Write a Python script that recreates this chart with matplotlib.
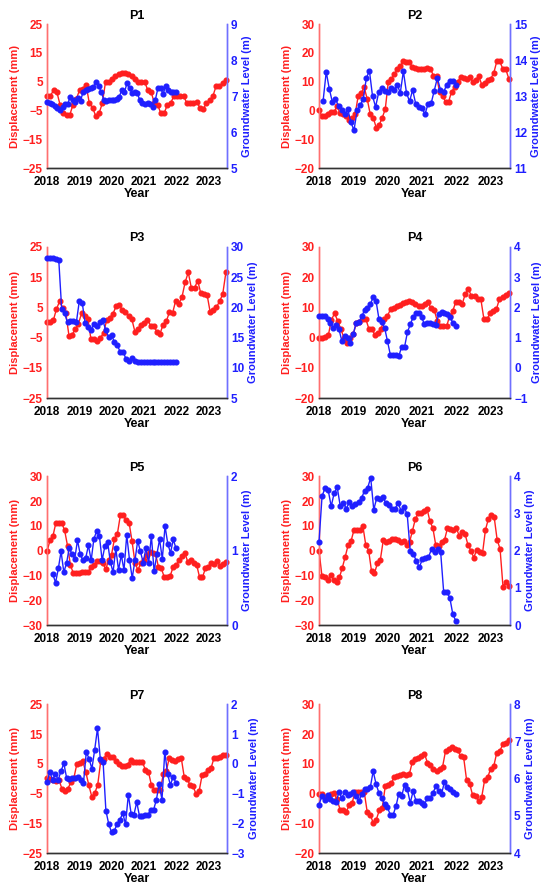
import numpy as np
import matplotlib.pyplot as plt

plt.rcParams['font.family'] = ['Liberation Sans', 'DejaVu Sans']
plt.rcParams['font.weight'] = 'bold'

RED = '#ff1f1f'
BLUE = '#1f1fff'

# displacement (mm), roughly monthly from 2018.0 to 2023.5
p1_disp = [0, 0, 2, 1.5, -3, -6, -6.5, -6.5, -3, -1, 2, 2.5, 4, -2.5, -4, -7, -6, -2.5,
           5, 5, 6, 7, 7.5, 8, 8, 7.5, 7, 6, 5, 5, 5, 2, 1.5, -2.5, -3, -6, -6, -3, -2.5,
           0, 0, 0, 0, -2.5, -2.5, -2.5, -2, -4, -4.5, -2.5, -1.5, 0, 3.5, 3.5, 4.5, 5.5]
p2_disp = [0, -2, -2, -1.3, -0.5, -0.5, 1.5, -1, -1.3, -2, -3.3, -2.7, -1.3, 5, 6, 8, 4,
           -1.3, -2.5, -6, -5, -2.5, 0.5, 10, 11, 12.5, 14.5, 15.5, 17, 16.8, 16.8, 15,
           14.7, 14.5, 14.3, 14.5, 14.7, 14.5, 12, 12, 6.5, 5, 3, 3, 6.5, 8, 10, 11.5,
           11.2, 11, 11.5, 10, 10.5, 12, 9, 9.5, 10.5, 11, 13, 17, 17, 14.5, 14.3, 11]
p3_disp = [0, 0, 0.7, 4.4, 7, 4.8, 3, -4.4, -4, -2.2, -0.4, 3, 2.2, 1.2, -5.5, -5.5,
           -6.2, -5.1, -3.5, 0.7, 1.5, 2.9, 5.3, 5.9, 4, 3.4, 2.2, 1.2, -3, -2.2, -0.7,
           -0.2, 0.9, -1, -1.3, -3, -3.7, -0.7, 0.4, 3.4, 3.1, 7.2, 6.2, 8.4, 13.3, 16.6,
           11.4, 11.4, 13.9, 9.7, 9.5, 9.2, 3.4, 4.2, 5.1, 7, 9.5, 16.6]
p4_disp = [0, 0, 0.3, 0.8, 5.9, 8, 5.6, 2.8, 0, -1.9, 0, 1.1, 4.8, 5.2, 6.1, 6.3, 3,
           2.8, 0.8, 1.4, 3, 6.3, 7.2, 9.4, 9.7, 10.3, 10.8, 11.4, 11.9, 12.2, 11.9,
           11.1, 10.6, 10.6, 11.1, 11.7, 9.7, 9.2, 5.6, 3.9, 3.7, 3.7, 7.2, 8.9, 11.9,
           11.7, 11.1, 14.4, 16.1, 13.7, 13.9, 12.8, 12.8, 6.1, 6.1, 8.1, 8.9, 9.4, 12.8,
           13.3, 14.1, 14.8]
p5_disp = [-0.3, 4.1, 5.8, 11.1, 11.2, 11.2, 8.2, 1.9, -5.9, -9.2, -9.2, -9.2, -8.8,
           -8.8, -8.8, -6.6, -5.9, -4.1, -4.1, -4.8, -7.6, -3.9, -1.6, 4.8, 6.8, 14.2,
           14.2, 12.2, 11.2, 3.7, -4.8, -7.9, -4.8, -3.9, -1.6, -0.5, -0.8, -1.2, -6.6,
           -7.2, -10.8, -10.6, -10.2, -6.6, -5.9, -3.9, -2.1, -0.8, -4.6, -3.6, -4.8,
           -5.6, -10.6, -10.8, -7.2, -6.6, -4.8, -5.2, -4.1, -6.2, -5.2, -4.6]
p6_disp = [0, -10.1, -10.8, -11.8, -9.8, -11.8, -12.7, -10.8, -6.8, -2.4, 2.4, 4, 8.4,
           8.4, 8.4, 10.1, 2.4, 0, -8.4, -9.1, -5.1, -3.7, 4.1, 3.4, 3.7, 4.8, 4.8, 4.4,
           3.4, 3.7, 2.4, 3.4, 8, 12.8, 15.2, 15.2, 15.8, 16.8, 11.8, 9.1, 2.1, 1.7, 3.4,
           4.4, 9.1, 8.8, 8.4, 9.1, 6.1, 7.4, 6.7, 2.4, 0, -2.8, 0.3, -0.6, -1, 8.4,
           12.8, 14.2, 13.4, 4.4, 0.7, -14.5, -12.5, -14.1]
p7_disp = [0.2, 0, -0.4, -0.7, -0.4, -3.4, -4.1, -3.4, -1.2, 0.2, 4.9, 5.2, 5.8, 2.2,
           -2.1, -6, -4.9, -2.1, 5.8, 6.7, 8.2, 7.4, 7.4, 5.8, 4.9, 4.1, 4.4, 4.6, 6.3,
           5.5, 5.5, 5.5, 5.5, 3, 2.4, -2.1, -3.7, -3.7, -3.7, 1.5, 2.6, 6.9, 6.3, 6,
           6.7, 7.1, 0.7, 0, -2.3, -2.6, -5.2, -4.3, 1.1, 1.5, 3, 3.5, 6.9, 6.9, 7.4,
           7.8, 7.8]
p8_disp = [0, -0.3, -1.2, -0.9, -0.1, 0.2, -2, -5.4, -5.7, -6.2, -4, -3.1, 0.6, 0.6,
           0.6, 0.6, -6.2, -7.1, -9.9, -8.8, -5.7, -4.8, 2.5, 3, 3.6, 5.5, 5.8, 6.2, 6.4,
           6.2, 6.6, 10.7, 11.5, 12, 12.6, 13.4, 10.3, 9.6, 8.1, 7.5, 8.1, 8.9, 14.3,
           14.8, 15.7, 14.8, 14.5, 12.6, 12.2, 4.4, 3.3, -0.6, -0.9, -2.6, -1.2, 4.7,
           5.5, 8.4, 9.2, 13.7, 14.3, 16.5, 17.1, 18]

# groundwater level (m), roughly monthly up to 2022
p1_gw = [6.84, 6.82, 6.78, 6.72, 6.68, 6.6, 6.7, 6.78, 6.78, 6.98, 6.9, 6.84, 6.94,
         6.87, 7.12, 7.17, 7.19, 7.22, 7.25, 7.4, 7.28, 7.12, 6.9, 6.87, 6.88, 6.88,
         6.9, 6.92, 6.98, 7.17, 7.1, 7.36, 7.22, 7.08, 7.1, 7.08, 6.88, 6.82, 6.78,
         6.8, 6.78, 6.7, 6.9, 7.22, 7.22, 7.06, 7.28, 7.17, 7.12, 7.12, 7.12]
p2_gw = [12.87, 13.67, 13.2, 12.83, 12.92, 12.72, 12.6, 12.5, 12.63, 12.27, 12.05,
         12.6, 12.75, 12.92, 13.5, 13.7, 13.0, 12.7, 13.1, 13.23, 13.15, 13.1, 13.22,
         13.18, 13.31, 13.09, 13.69, 13.09, 12.85, 13.17, 12.78, 12.69, 12.66, 12.5,
         12.78, 12.8, 13.15, 13.5, 13.18, 13.1, 13.31, 13.43, 13.43, 13.3]
p3_gw = [28.2, 28.2, 28.1, 28.0, 27.9, 19.7, 19.0, 17.5, 17.7, 17.7, 17.5, 21.0, 20.8,
         17.4, 16.8, 16.3, 17.2, 17.0, 17.5, 17.9, 16.3, 15.1, 15.5, 14.2, 13.7, 12.6,
         12.6, 11.4, 11.1, 11.6, 11.2, 10.9, 10.9, 10.9, 10.9, 10.9, 10.9, 10.9, 10.9,
         10.9, 10.9, 10.9, 10.9, 10.9, 10.9]
p4_gw = [1.72, 1.7, 1.72, 1.61, 1.47, 1.33, 1.41, 1.28, 0.89, 1.06, 1.0, 0.81, 1.11,
         1.48, 1.52, 1.7, 1.92, 1.97, 2.11, 2.33, 2.22, 1.63, 1.5, 1.33, 0.89, 0.44,
         0.44, 0.41, 0.39, 0.7, 0.69, 1.17, 1.44, 1.67, 1.81, 1.81, 1.67, 1.44, 1.48,
         1.47, 1.44, 1.41, 1.78, 1.86, 1.81, 1.78, 1.67, 1.48, 1.39]
p5_gw = [0.68, 0.57, 0.76, 0.99, 0.71, 0.83, 1.04, 0.95, 0.89, 1.14, 0.95, 0.87, 0.9,
         1.07, 0.87, 1.16, 1.26, 1.2, 0.87, 1.06, 1.12, 0.85, 0.71, 1.03, 0.74, 0.94,
         0.74, 1.21, 0.88, 0.63, 0.87, 1.13, 0.99, 0.84, 1.03, 0.83, 1.2, 0.72, 0.95,
         1.15, 0.89, 1.33, 1.09, 0.97, 1.15, 1.03]
p6_gw = [2.23, 3.46, 3.69, 3.64, 3.19, 3.55, 3.7, 3.19, 3.28, 3.13, 3.31, 3.19, 3.25,
         3.3, 3.42, 3.61, 3.69, 3.96, 3.1, 3.42, 3.4, 3.43, 3.28, 3.24, 3.13, 3.13,
         3.28, 3.07, 3.16, 2.98, 1.98, 1.91, 1.73, 1.55, 1.78, 1.8, 1.82, 2.05, 1.96,
         2.05, 1.96, 0.88, 0.88, 0.74, 0.29, 0.11]
p7_gw = [-0.6, -0.28, -0.54, -0.35, -0.54, -0.24, 0.01, -0.48, -0.51, -0.48, -0.48,
         -0.43, -0.54, -0.65, 0.39, 0.17, -0.17, 0.47, 1.19, 0.17, 0.06, -1.58, -2.02,
         -2.3, -2.25, -2.03, -1.88, -1.66, -2.03, -1.04, -1.68, -1.71, -1.29, -1.77,
         -1.77, -1.71, -1.71, -1.55, -1.55, -1.21, -0.68, -1.21, 0.41, -0.35, -0.71,
         -0.43, -0.65]
p8_gw = [5.3, 5.53, 5.42, 5.56, 5.44, 5.39, 5.38, 5.64, 5.48, 5.64, 5.56, 5.6, 5.64,
         5.53, 5.39, 5.6, 5.73, 5.73, 5.77, 6.2, 5.86, 5.62, 5.48, 5.32, 5.23, 5.03,
         5.03, 5.26, 5.6, 5.53, 5.84, 5.71, 5.35, 5.66, 5.41, 5.39, 5.35, 5.3, 5.48,
         5.48, 5.62, 5.8, 5.68, 5.6, 5.91, 5.78, 5.71, 5.64, 5.6]

titles = ['P1', 'P2', 'P3', 'P4', 'P5', 'P6', 'P7', 'P8']
disp_all = [p1_disp, p2_disp, p3_disp, p4_disp, p5_disp, p6_disp, p7_disp, p8_disp]
gw_all = [p1_gw, p2_gw, p3_gw, p4_gw, p5_gw, p6_gw, p7_gw, p8_gw]
gw_start = [2018.0, 2018.12, 2018.0, 2018.0, 2018.18, 2018.0, 2018.0, 2018.0]
disp_ticks = [np.arange(-25, 26, 10), np.arange(-20, 31, 10),
              np.arange(-25, 26, 10), np.arange(-20, 31, 10),
              np.arange(-30, 31, 10), np.arange(-30, 31, 10),
              np.arange(-25, 26, 10), np.arange(-20, 31, 10)]
gw_ticks = [np.arange(5, 10), np.arange(11, 16), np.arange(5, 31, 5), np.arange(-1, 5),
            np.arange(0, 3), np.arange(0, 5), np.arange(-3, 3), np.arange(4, 9)]
years = [2018, 2019, 2020, 2021, 2022, 2023]

fig = plt.figure(figsize=(5.5, 8.91), dpi=100)

col_left = [0.0855, 0.58]
col_width = [0.327, 0.347]
row_bottom = [0.8114, 0.5533, 0.2985, 0.0426]
row_height = [0.1616, 0.1695, 0.167, 0.167]

for i in range(8):
    r, c = i // 2, i % 2
    ax = fig.add_axes([col_left[c], row_bottom[r], col_width[c], row_height[r]])
    ax2 = ax.twinx()

    d = disp_all[i]
    g = gw_all[i]
    td = np.linspace(2018.0, 2023.52, len(d))
    tg = np.linspace(gw_start[i], 2021.98, len(g))

    ax.plot(td, d, '-o', color=RED, ms=3.4, lw=1, clip_on=False, zorder=3)
    ax2.plot(tg, g, '-o', color=BLUE, ms=3.4, lw=1, clip_on=False, zorder=3)

    ax.set_xlim(2018, 2023.55)
    ax.set_xticks(years)
    ax.set_ylim(disp_ticks[i][0], disp_ticks[i][-1])
    ax.set_yticks(disp_ticks[i])
    ax2.set_ylim(gw_ticks[i][0], gw_ticks[i][-1])
    ax2.set_yticks(gw_ticks[i])

    ax.tick_params(axis='x', length=0, pad=6, labelsize=8.5)
    ax.tick_params(axis='y', length=0, pad=3, labelsize=8.5, labelcolor=RED)
    ax2.tick_params(axis='y', length=0, pad=3, labelsize=8.5, labelcolor=BLUE)

    for a in (ax, ax2):
        a.spines['top'].set_visible(False)
        a.spines['left'].set_color('#ff7070')
        a.spines['right'].set_color('#7070ff')
        a.spines['bottom'].set_color('#333333')
        for s in a.spines.values():
            s.set_linewidth(1)

    ax.set_title(titles[i], fontsize=9, fontweight='bold', pad=4)
    ax.set_xlabel('Year', fontsize=9, fontweight='bold', labelpad=0)
    ax.set_ylabel('Displacement (mm)', fontsize=8, fontweight='bold', color=RED, labelpad=2)
    ax2.set_ylabel('Groundwater Level (m)', fontsize=8, fontweight='bold', color=BLUE, labelpad=3)

plt.savefig('out.png', dpi=100)
